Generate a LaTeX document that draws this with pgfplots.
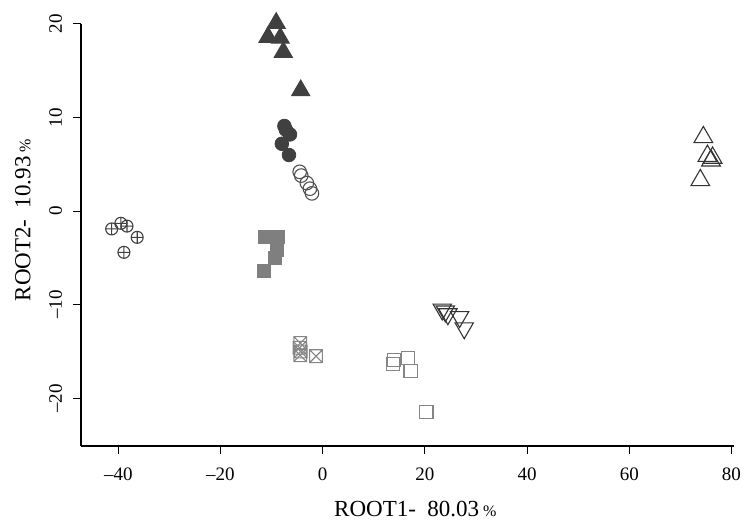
\documentclass[border=0pt]{standalone}
\usepackage{fontspec}
\setmainfont{Liberation Serif}
\usepackage{pgfplots}
\pgfplotsset{compat=1.18}
\usetikzlibrary{plotmarks}

\pgfdeclareplotmark{boxx}{%
  \pgfpathrectangle{\pgfqpoint{-\pgfplotmarksize}{-\pgfplotmarksize}}{\pgfqpoint{2\pgfplotmarksize}{2\pgfplotmarksize}}%
  \pgfpathmoveto{\pgfqpoint{-\pgfplotmarksize}{-\pgfplotmarksize}}%
  \pgfpathlineto{\pgfqpoint{\pgfplotmarksize}{\pgfplotmarksize}}%
  \pgfpathmoveto{\pgfqpoint{-\pgfplotmarksize}{\pgfplotmarksize}}%
  \pgfpathlineto{\pgfqpoint{\pgfplotmarksize}{-\pgfplotmarksize}}%
  \pgfusepathqstroke}

\definecolor{dk}{HTML}{404040}
\definecolor{md}{HTML}{7F7F7F}
\definecolor{oc}{HTML}{505050}
\definecolor{lg}{HTML}{858585}
\definecolor{tk}{HTML}{333333}

\newcommand{\tickfont}{\fontsize{9.5}{11}\selectfont}
\newcommand{\labfont}{\fontsize{11.5}{13}\selectfont}
\newcommand{\pct}{{\fontsize{8}{9}\selectfont\%}}

\begin{document}
\begin{tikzpicture}
\begin{axis}[name=ax, scale only axis, width=326.5pt, height=211pt,
  xmin=-47.3, xmax=80.5, ymin=-25.1, ymax=20,
  axis lines=left, axis line style={-, black, line width=0.6pt},
  xtick={-40,-20,0,20,40,60,80},
  xticklabels={\textendash40,\textendash20,0,20,40,60,80},
  ytick={-20,-10,0,10,20},
  yticklabels={\textendash20,\textendash10,0,10,20},
  tick align=outside, major tick length=3.75pt,
  tick style={black, line width=0.5pt},
  clip=false,
  xticklabel style={font=\tickfont, anchor=north, inner sep=0pt},
  xticklabel shift=7pt,
  yticklabel style={font=\tickfont, rotate=90, anchor=south, inner sep=0pt},
  yticklabel shift=5.5pt,
  xlabel={ROOT1-\hspace{0.5em}80.03\,\pct},
  ylabel={ROOT2-\hspace{0.5em}10.93\,\pct},
  label style={font=\labfont},
  xlabel style={at={(axis description cs:0.512,-0.168)}, anchor=base},
  ylabel style={at={(axis description cs:-0.0888,0.535)}, anchor=center, rotate=0},
]
% filled triangles
\addplot[only marks, mark=triangle*, mark size=5.2pt, color=dk, mark options={draw=dk, fill=dk, line width=0.5pt}]
  coordinates {(-9.1,20.1) (-10.7,18.6) (-8.3,18.5) (-7.7,17.0) (-4.3,12.9)};
% filled circles
\addplot[only marks, mark=*, mark size=3.4pt, color=dk, mark options={draw=dk, fill=dk}]
  coordinates {(-7.5,9.1) (-7.2,8.7) (-6.4,8.2) (-8.0,7.2) (-6.6,6.0)};
% open circles
\addplot[only marks, mark=o, mark size=3.4pt, color=oc, mark options={line width=0.55pt}]
  coordinates {(-4.5,4.2) (-4.2,3.8) (-3.1,3.0) (-2.5,2.4) (-2.1,1.9)};
% crossed circles
\addplot[only marks, mark=oplus, mark size=3pt, color=dk, mark options={line width=0.55pt}]
  coordinates {(-41.3,-1.9) (-39.5,-1.3) (-38.3,-1.6) (-36.3,-2.8) (-38.9,-4.4)};
% filled squares
\addplot[only marks, mark=square*, mark size=3.3pt, color=md, mark options={draw=md, fill=md}]
  coordinates {(-11.3,-2.75) (-10.0,-2.75) (-8.7,-2.75) (-9.0,-4.1) (-9.4,-5.0) (-11.5,-6.35)};
% crossed squares
\addplot[only marks, mark=boxx, mark size=3.2pt, color=lg, mark options={line width=0.55pt}]
  coordinates {(-4.4,-14.1) (-4.5,-14.6) (-4.3,-15.0) (-4.4,-15.4) (-1.3,-15.5)};
% open squares
\addplot[only marks, mark=square, mark size=3.3pt, color=lg, mark options={line width=0.55pt}]
  coordinates {(13.8,-16.3) (14.0,-15.9) (16.7,-15.7) (17.2,-17.1) (20.3,-21.5)};
% inverted open triangles
\addplot[only marks, mark=triangle, mark size=5.3pt, color=tk, mark options={rotate=180, line width=0.55pt}]
  coordinates {(23.4,-10.5) (24.0,-10.7) (24.5,-11.0) (26.8,-11.3) (27.7,-12.5)};
% open triangles
\addplot[only marks, mark=triangle, mark size=5.4pt, color=tk, mark options={line width=0.55pt}]
  coordinates {(74.5,7.9) (75.3,5.9) (76.3,5.7) (76.0,5.4) (73.9,3.3)};
\end{axis}
\pgfresetboundingbox
\path[use as bounding box] ([xshift=-40.5pt,yshift=-37pt]ax.south west) rectangle ([xshift=7pt,yshift=12pt]ax.north east);
\end{tikzpicture}
\end{document}
